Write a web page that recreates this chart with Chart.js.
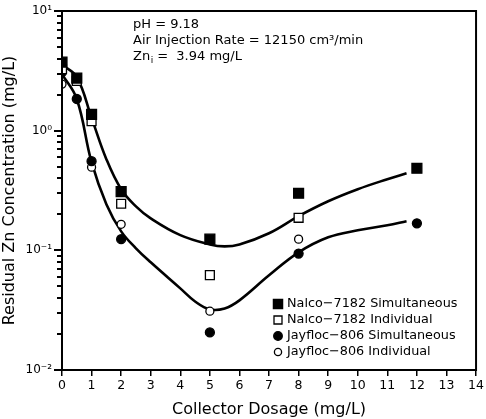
<!DOCTYPE html>
<html>
<head>
<meta charset="utf-8">
<script src="https://cdn.jsdelivr.net/npm/chart.js@4.4.1/dist/chart.umd.min.js"></script>
<style>
  html, body { margin: 0; padding: 0; background: #fff; }
  #wrap { width: 486px; height: 419px; }
</style>
</head>
<body>
<div id="wrap"><canvas id="chart"></canvas></div>
<script>
// measured points, collector dosage in mg/L
const dosage = [0, 0.5, 1, 2, 5, 8, 12];
const nalcoSimult = [3.74, 2.75, 1.37, 0.31, 0.124, 0.30, 0.485];
const nalcoIndiv = [3.27, 2.6, 1.2, 0.245, 0.062, 0.187, null];
const jayflocSimult = [3.09, 1.84, 0.556, 0.124, 0.0206, 0.094, 0.168];
const jayflocIndiv = [2.45, null, 0.495, 0.165, 0.031, 0.124, null];

// smooth fitted curves
const nalcoFitX = [0, 0.5, 1, 1.5, 2, 2.5, 3, 4, 5, 5.5, 6, 7, 8, 9, 10, 11, 11.65];
const nalcoFitY = [3.55, 2.8, 1.28, 0.578, 0.324, 0.233, 0.185, 0.134, 0.112, 0.108, 0.112, 0.139, 0.193, 0.257, 0.324, 0.393, 0.441];
const jayflocFitX = [0, 0.5, 1, 1.5, 2, 2.5, 3, 4, 4.5, 5, 5.5, 6, 7, 8, 9, 10, 11, 11.65];
const jayflocFitY = [2.97, 1.84, 0.545, 0.243, 0.144, 0.104, 0.0794, 0.0481, 0.0374, 0.0321, 0.0327, 0.0382, 0.0618, 0.0962, 0.1285, 0.147, 0.162, 0.175];

const xTicks = [0, 1, 2, 3, 4, 5, 6, 7, 8, 9, 10, 11, 12, 13, 14];
const yDecades = [0.01, 0.1, 1];
const yTickLabels = { '0.01': '10\u207B\u00B2', '0.1': '10\u207B\u00B9', '1': '10\u2070', '10': '10\u00B9' };
const noteLines = ['pH = 9.18', 'Air Injection Rate = 12150 cm\u00B3/min'];

const FONT = "'DejaVu Sans', sans-serif";

function toPoints(xs, ys) {
  const pts = [];
  xs.forEach((x, i) => { if (ys[i] != null) pts.push({ x: x, y: ys[i] }); });
  return pts;
}

// 1..9 in every decade, plus the top
function logTicks() {
  const t = [];
  yDecades.forEach(d => { for (let k = 1; k <= 9; k++) t.push(+(d * k).toPrecision(3)); });
  t.push(10);
  return t;
}
const yTickValues = logTicks();

const markerSets = [
  { label: 'Nalco\u22127182 Simultaneous', data: toPoints(dosage, nalcoSimult), pointStyle: 'rect', pointRadius: 7, fill: '#000' },
  { label: 'Nalco\u22127182 Individual', data: toPoints(dosage, nalcoIndiv), pointStyle: 'rect', pointRadius: 6.3, fill: '#fff' },
  { label: 'Jayfloc\u2212806 Simultaneous', data: toPoints(dosage, jayflocSimult), pointStyle: 'circle', pointRadius: 4.5, fill: '#000' },
  { label: 'Jayfloc\u2212806 Individual', data: toPoints(dosage, jayflocIndiv), pointStyle: 'circle', pointRadius: 4, fill: '#fff' }
];

const datasets = markerSets.map(m => ({
  type: 'scatter',
  label: m.label,
  data: m.data,
  pointStyle: m.pointStyle,
  pointRadius: m.pointRadius,
  pointBackgroundColor: m.fill,
  pointBorderColor: '#000',
  pointBorderWidth: 1.3,
  order: 1
}));

[[nalcoFitX, nalcoFitY], [jayflocFitX, jayflocFitY]].forEach(([xs, ys]) => {
  datasets.push({
    type: 'line',
    label: 'fit',
    data: toPoints(xs, ys),
    borderColor: '#000',
    borderWidth: 2.6,
    pointRadius: 0,
    fill: false,
    tension: 0.4,
    order: 2
  });
});

// frame, y tick marks, notes and legend box
const decorations = {
  id: 'decorations',
  afterDraw(chart) {
    const { ctx, chartArea: a } = chart;
    const yScale = chart.scales.y;
    ctx.save();
    ctx.strokeStyle = '#000';
    ctx.lineWidth = 2;
    ctx.strokeRect(a.left, a.top, a.right - a.left, a.bottom - a.top);

    ctx.fillStyle = '#000';
    yTickValues.forEach(v => {
      const py = Math.round(yScale.getPixelForValue(v));
      const len = yTickLabels[String(v)] !== undefined ? 8 : 5;
      ctx.fillRect(a.left - len, py - 1, len, 2);
    });

    ctx.font = '13px ' + FONT;
    ctx.textBaseline = 'middle';
    ctx.textAlign = 'left';
    const tx = 133;
    ctx.fillText(noteLines[0], tx, 25);
    ctx.fillText(noteLines[1], tx, 41);
    ctx.fillText('Zn', tx, 57);
    let w = ctx.measureText('Zn').width;
    ctx.font = '9px ' + FONT;
    ctx.fillText('i', tx + w + 0.5, 61);
    ctx.font = '13px ' + FONT;
    ctx.fillText('=  3.94 mg/L', tx + w + 7, 57);

    // legend
    ctx.font = '12.8px ' + FONT;
    const lx = 278, ly = 304, step = 16;
    markerSets.forEach((m, i) => {
      const y = ly + i * step;
      ctx.beginPath();
      if (m.pointStyle === 'rect') {
        const s = m.fill === '#000' ? 4.6 : 4;
        ctx.rect(lx - s, y - s, 2 * s, 2 * s);
      } else {
        ctx.arc(lx, y, m.fill === '#000' ? 4.3 : 3.6, 0, Math.PI * 2);
      }
      ctx.fillStyle = m.fill;
      ctx.fill();
      ctx.lineWidth = 1.3;
      ctx.strokeStyle = '#000';
      ctx.stroke();
      ctx.fillStyle = '#000';
      ctx.fillText(m.label, lx + 9, y);
    });
    ctx.restore();
  }
};

new Chart(document.getElementById('chart'), {
  data: { datasets: datasets },
  options: {
    responsive: true,
    maintainAspectRatio: false,
    animation: false,
    layout: { padding: { top: 11, right: 5, left: 0, bottom: 0 } },
    plugins: { legend: { display: false }, tooltip: { enabled: false } },
    scales: {
      x: {
        type: 'linear',
        min: 0,
        max: 14,
        afterBuildTicks: scale => { scale.ticks = xTicks.map(v => ({ value: v })); },
        afterFit: scale => { scale.height = 49; },
        ticks: { color: '#000', font: { family: FONT, size: 12.5 }, padding: 2, maxRotation: 0 },
        grid: { drawOnChartArea: false, drawTicks: true, tickLength: 6, color: '#000', lineWidth: 1.5 },
        border: { display: true, color: '#000', width: 2 },
        title: { display: true, text: 'Collector Dosage (mg/L)', color: '#000', font: { family: FONT, size: 16 }, padding: { top: 0, bottom: 0 } }
      },
      y: {
        type: 'logarithmic',
        min: 0.01,
        max: 10,
        afterBuildTicks: scale => { scale.ticks = Object.keys(yTickLabels).map(k => ({ value: +k })); },
        afterFit: scale => { scale.width = 62; },
        ticks: {
          autoSkip: false,
          color: '#000',
          font: { family: FONT, size: 12 },
          padding: 2,
          callback: v => yTickLabels[String(v)] || ''
        },
        // tick marks themselves are drawn by the plugin; keep the gap for them
        grid: { drawOnChartArea: false, drawTicks: true, tickLength: 8, color: 'rgba(0,0,0,0)' },
        border: { display: true, color: '#000', width: 2 },
        title: { display: true, text: 'Residual Zn Concentration (mg/L)', color: '#000', font: { family: FONT, size: 16 }, padding: { top: 0, bottom: 2 } }
      }
    }
  },
  plugins: [decorations]
});
</script>
</body>
</html>
